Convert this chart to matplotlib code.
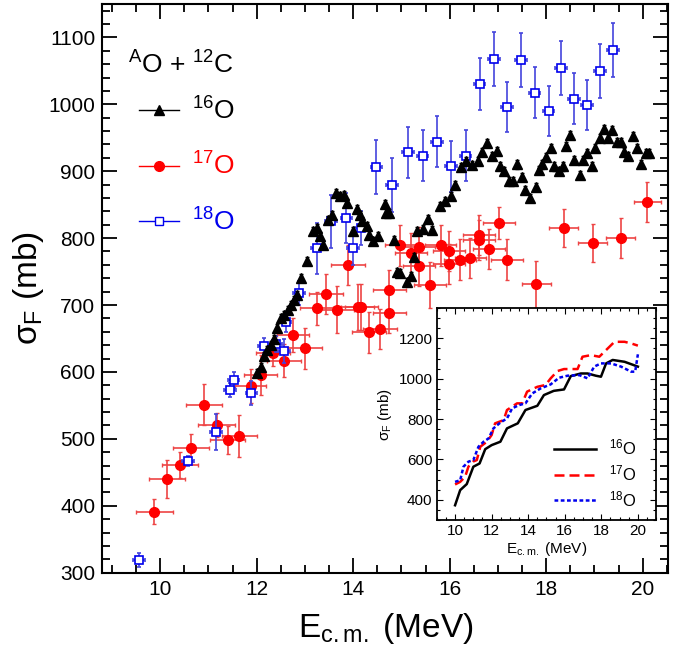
import matplotlib
matplotlib.use('Agg')
import matplotlib.pyplot as plt
from matplotlib.lines import Line2D
from matplotlib.ticker import MultipleLocator

plt.rcParams['font.family'] = ['Liberation Sans', 'DejaVu Sans']
plt.rcParams['mathtext.fontset'] = 'custom'
plt.rcParams['mathtext.rm'] = 'Liberation Sans'
plt.rcParams['mathtext.it'] = 'Liberation Sans:italic'

# 16O + 12C (black triangles)
e16 = [12.00, 12.08, 12.15, 12.22, 12.29, 12.35, 12.43, 12.50, 12.57, 12.64,
       12.71, 12.77, 12.84, 12.92, 13.05, 13.16, 13.26, 13.31, 13.38, 13.47,
       13.56, 13.64, 13.73, 13.81, 13.88, 14.00, 14.07, 14.14, 14.19, 14.28,
       14.33, 14.42, 14.51, 14.65, 14.67, 14.74, 14.84, 14.91, 14.98, 15.12,
       15.19, 15.26, 15.33, 15.45, 15.54, 15.64, 15.80, 15.90, 16.02, 16.12,
       16.23, 16.33, 16.47, 16.58, 16.67, 16.78, 16.88, 16.97, 17.04, 17.12,
       17.23, 17.32, 17.40, 17.50, 17.57, 17.66, 17.78, 17.85, 17.92, 18.00,
       18.09, 18.17, 18.26, 18.34, 18.41, 18.50, 18.58, 18.69, 18.77, 18.85,
       18.94, 19.02, 19.11, 19.19, 19.28, 19.37, 19.46, 19.55, 19.62, 19.70,
       19.79, 19.88, 19.97, 20.06, 20.14]
s16 = [598, 608, 624, 633, 640, 649, 665, 680, 685, 693,
       700, 708, 715, 740, 766, 810, 815, 803, 790, 827,
       835, 868, 863, 865, 853, 810, 843, 835, 825, 818,
       805, 795, 803, 851, 838, 838, 797, 750, 748, 735,
       743, 772, 810, 814, 829, 812, 848, 856, 863, 880,
       906, 915, 909, 915, 928, 942, 923, 930, 908, 900,
       885, 885, 910, 892, 872, 860, 877, 902, 910, 921,
       934, 907, 900, 907, 937, 954, 916, 895, 916, 927,
       908, 934, 949, 963, 949, 961, 944, 944, 929, 922,
       952, 934, 911, 927, 927]
err16 = 6

# 17O + 12C (red circles)
e17 = [9.88, 10.14, 10.41, 10.64, 10.91, 11.17, 11.40, 11.64, 11.88, 12.08,
       12.33, 12.57, 12.76, 13.00, 13.24, 13.43, 13.67, 13.90, 14.09, 14.17,
       14.33, 14.55, 14.75, 14.75, 14.98, 15.19, 15.36, 15.36, 15.59, 15.81,
       15.98, 15.98, 16.21, 16.43, 16.61, 16.61, 16.81, 17.03, 17.19, 17.79,
       18.36, 18.96, 19.54, 20.09]
s17 = [391, 440, 461, 486, 551, 520, 498, 504, 579, 596,
       629, 617, 655, 635, 695, 717, 693, 760, 697, 697,
       659, 664, 688, 723, 789, 777, 786, 758, 730, 789,
       781, 761, 768, 770, 804, 797, 784, 822, 768, 731,
       815, 793, 800, 854]
xerr17 = [0.38, 0.38, 0.38, 0.38, 0.38, 0.38, 0.36, 0.36, 0.32, 0.35,
          0.35, 0.35, 0.33, 0.35, 0.35, 0.35, 0.35, 0.35, 0.35, 0.35,
          0.35, 0.35, 0.35, 0.35, 0.33, 0.33, 0.33, 0.33, 0.33, 0.33,
          0.33, 0.33, 0.33, 0.33, 0.33, 0.33, 0.33, 0.33, 0.33, 0.30,
          0.30, 0.30, 0.30, 0.28]
yerr17 = [19, 28, 20, 21, 31, 18, 21, 31, 25, 30,
          20, 25, 25, 30, 25, 30, 35, 30, 35, 35,
          30, 30, 30, 30, 30, 30, 30, 30, 35, 30,
          30, 30, 30, 30, 30, 30, 30, 24, 30, 35,
          29, 28, 30, 30]

# 18O + 12C (open blue squares)
e18 = [9.56, 10.58, 11.16, 11.45, 11.52, 11.89, 12.15, 12.40, 12.57, 12.60,
       12.88, 13.24, 13.54, 13.86, 14.00, 14.16, 14.48, 14.81, 15.14, 15.44,
       15.74, 16.03, 16.33, 16.62, 16.92, 17.19, 17.48, 17.76, 18.05, 18.31,
       18.57, 18.85, 19.11, 19.38]
s18 = [319, 467, 510, 573, 588, 569, 639, 642, 631, 675,
       718, 785, 825, 830, 785, 815, 906, 879, 928, 923,
       944, 907, 923, 1030, 1068, 996, 1066, 1017, 990, 1054,
       1008, 999, 1050, 1081]
yerr18 = [10, 8, 27, 10, 12, 18, 12, 12, 18, 15,
          18, 38, 40, 38, 25, 25, 40, 40, 38, 38,
          38, 38, 38, 39, 40, 38, 40, 38, 38, 40,
          38, 38, 40, 40]
xerr18 = 0.12

# inset: calculated cross sections
c16_e = [10.0, 10.28, 10.64, 11.0, 11.34, 11.65, 12.0, 12.48, 12.84, 13.43,
         13.85, 14.5, 14.86, 15.4, 15.96, 16.33, 16.88, 17.25, 17.7, 17.98,
         18.26, 18.62, 19.27, 20.0]
c16_s = [373, 448, 478, 564, 580, 651, 671, 688, 754, 779,
         845, 866, 919, 940, 947, 1013, 1026, 1026, 1015, 1010,
         1076, 1093, 1084, 1060]
c17_e = [10.0, 10.28, 10.55, 10.73, 10.97, 11.19, 11.38, 11.74, 12.0, 12.19,
         12.66, 12.84, 13.39, 13.67, 13.94, 14.5, 14.95, 15.23, 15.6, 15.96,
         16.7, 16.97, 17.43, 17.89, 18.26, 18.72, 19.27, 19.63, 20.0]
c17_s = [476, 489, 514, 564, 589, 597, 663, 688, 721, 779,
         795, 845, 878, 878, 936, 960, 969, 1002, 1038, 1048,
         1048, 1109, 1117, 1109, 1142, 1183, 1183, 1175, 1164]
c18_e = [10.0, 10.28, 10.46, 10.73, 11.0, 11.28, 11.56, 11.83, 12.1, 12.48,
         12.84, 13.12, 13.49, 13.85, 14.22, 14.68, 15.23, 15.69, 16.15, 16.79,
         17.25, 17.61, 17.98, 18.53, 19.08, 19.63, 19.85, 20.0]
c18_s = [489, 497, 564, 589, 597, 663, 688, 704, 754, 783,
         803, 853, 869, 878, 927, 952, 972, 1005, 1015, 1018,
         1002, 1060, 1076, 1076, 1060, 1035, 1035, 1121]

fig = plt.figure(figsize=(6.73, 6.5), dpi=100)
ax = fig.add_axes([0.152, 0.119, 0.841, 0.875])

ax.errorbar(e17, s17, xerr=xerr17, yerr=yerr17, fmt='o', color='#ff0000',
            ms=7, ecolor='#ee4444', elinewidth=1.2, capsize=1.5, zorder=2)
ax.errorbar(e18, s18, xerr=xerr18, yerr=yerr18, fmt='s', mfc='white',
            mec='#0000ee', mew=1.2, ms=6.3, ecolor='#4444dd', elinewidth=1.2,
            capsize=1.5, zorder=3)
ax.errorbar(e16, s16, yerr=err16, fmt='^', color='black', ms=7,
            elinewidth=0.8, capsize=1.5, zorder=4)

ax.set_xlim(8.8, 20.53)
ax.set_ylim(300, 1150)
ax.xaxis.set_major_locator(MultipleLocator(2))
ax.xaxis.set_minor_locator(MultipleLocator(0.5))
ax.yaxis.set_minor_locator(MultipleLocator(20))
ax.set_yticks(range(300, 1101, 100))
ax.tick_params(which='both', direction='in', top=True, right=True,
               labelsize=15, width=1.3)
ax.tick_params(which='major', length=11, pad=5)
ax.tick_params(which='minor', length=6)
for sp in ax.spines.values():
    sp.set_linewidth(1.5)
ax.set_xlabel('E$_\\mathrm{c.m.}$ (MeV)', fontsize=24, labelpad=9)
ax.set_ylabel('σ$_\\mathrm{F}$ (mb)', fontsize=24, labelpad=2)

ax.text(0.046, 0.892, '$^\\mathrm{A}$O + $^{12}$C', transform=ax.transAxes,
        fontsize=19, va='center', ha='left')
handles = [
    Line2D([], [], color='black', marker='^', ms=7, lw=1),
    Line2D([], [], color='#ff0000', marker='o', ms=7, lw=1),
    Line2D([], [], color='#0000ee', marker='s', ms=6, mfc='white', lw=1),
]
ax.legend(handles, ['$^{16}$O', '$^{17}$O', '$^{18}$O'],
          loc='upper left', bbox_to_anchor=(0.023, 0.878), frameon=False,
          fontsize=19, labelcolor=['black', '#ff0000', '#0000ee'],
          handlelength=1.5, handletextpad=0.5, labelspacing=1.08)

# inset
ins = fig.add_axes([0.649, 0.2, 0.326, 0.326])
ins.plot(c16_e, c16_s, color='black', lw=1.8, label='$^{16}$O')
ins.plot(c17_e, c17_s, color='#ff0000', lw=1.8, ls=(0, (4, 2)),
         label='$^{17}$O')
ins.plot(c18_e, c18_s, color='#0000ee', lw=1.8, ls=(0, (1.5, 1)),
         label='$^{18}$O')
ins.set_xlim(9, 21)
ins.set_ylim(300, 1350)
ins.set_xticks(range(10, 21, 2))
ins.set_yticks(range(400, 1201, 200))
ins.xaxis.set_minor_locator(MultipleLocator(0.5))
ins.yaxis.set_minor_locator(MultipleLocator(50))
ins.tick_params(which='both', direction='in', top=True, right=True,
                labelsize=11, width=0.8)
ins.tick_params(which='major', length=4, pad=3)
ins.tick_params(which='minor', length=2)
for sp in ins.spines.values():
    sp.set_linewidth(1.3)
ins.set_xlabel('E$_\\mathrm{c.m.}$ (MeV)', fontsize=11, labelpad=1)
ins.set_ylabel('σ$_\\mathrm{F}$ (mb)', fontsize=11, labelpad=3)
ins.legend(loc='lower right', bbox_to_anchor=(0.98, -0.02), frameon=False,
           fontsize=12, handlelength=2.5, labelspacing=0.35)

fig.savefig('out.png', dpi=100)
